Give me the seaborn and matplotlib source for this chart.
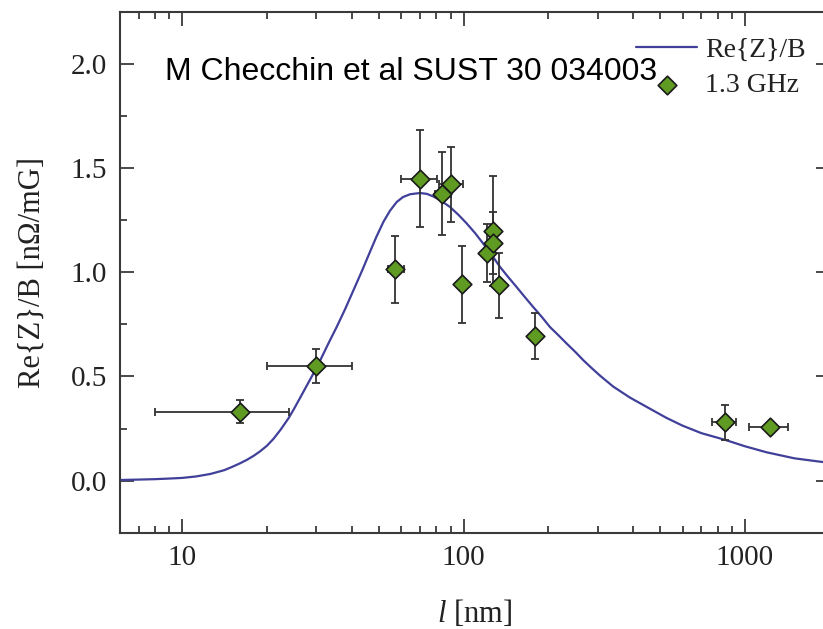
import numpy as np
import pandas as pd
import matplotlib
matplotlib.use("Agg")
import matplotlib.pyplot as plt
from matplotlib.ticker import LogLocator, MultipleLocator, FixedLocator, FixedFormatter, NullFormatter
import seaborn as sns

# Model curve Re{Z}/B versus mean free path l
curve_l = [6, 7, 8, 9, 10, 11.2, 12.6, 14.1, 15, 16, 17, 18, 18.9, 20, 21.1, 22.4,
           23.9, 25, 26.2, 27.7, 29.3, 30.9, 33, 35.4, 38, 40.6, 43.5, 46.5, 49,
           51.9, 54.8, 57.9, 61, 64.6, 70, 74, 78.2, 83.6, 89.5, 95.8, 102.6, 110,
           117.5, 126, 134.8, 144, 154.5, 165, 177, 190, 203, 217, 233, 250, 267,
           285, 305, 340, 390, 460, 525, 600, 700, 849, 1000, 1194, 1500, 2000]
curve_re = [0.003, 0.005, 0.007, 0.010, 0.013, 0.020, 0.032, 0.050, 0.065, 0.082,
            0.100, 0.120, 0.140, 0.167, 0.200, 0.245, 0.300, 0.345, 0.395, 0.455,
            0.515, 0.575, 0.655, 0.737, 0.825, 0.913, 1.005, 1.098, 1.170, 1.242,
            1.296, 1.338, 1.362, 1.375, 1.381, 1.377, 1.364, 1.342, 1.314, 1.277,
            1.235, 1.188, 1.138, 1.083, 1.026, 0.978, 0.929, 0.882, 0.833, 0.785,
            0.737, 0.699, 0.657, 0.617, 0.577, 0.541, 0.505, 0.452, 0.399, 0.345,
            0.302, 0.264, 0.228, 0.196, 0.165, 0.136, 0.107, 0.085]

# 1.3 GHz measurements
meas_l = [16, 30, 57, 70, 84, 90, 99, 121.5, 127.6, 127.3, 134, 180, 849, 1228]
meas_re = [0.33, 0.55, 1.015, 1.45, 1.378, 1.423, 0.942, 1.093, 1.20, 1.141, 0.937,
           0.696, 0.281, 0.258]
meas_re_err = [0.055, 0.082, 0.16, 0.232, 0.2, 0.18, 0.185, 0.14, 0.265, 0.15, 0.155,
               0.11, 0.084, 0.0]
meas_l_low = [8, 20, 53.8, 60.2, 79, 82, 99, 121.5, 127.6, 127.3, 134, 180, 766, 1036]
meas_l_high = [24, 40, 61.5, 80.4, 90, 99.4, 99, 121.5, 127.6, 127.3, 134, 180, 929, 1419]

y_ticks = [0.0, 0.5, 1.0, 1.5, 2.0]
y_tick_labels = ["0.0", "0.5", "1.0", "1.5", "2.0"]
x_ticks = [10, 100, 1000]
x_tick_labels = ["10", "100", "1000"]

curve_df = pd.DataFrame({"l": curve_l, "re": curve_re})
meas_df = pd.DataFrame({"l": meas_l, "re": meas_re})

sns.set_style("ticks")
plt.rcParams["font.family"] = ["Liberation Serif", "DejaVu Serif"]
plt.rcParams["mathtext.fontset"] = "custom"
plt.rcParams["mathtext.rm"] = "Liberation Serif"
plt.rcParams["mathtext.it"] = "Liberation Serif:italic"

edge = "#3a3a3a"
line_col = "#40409a"
green = "#5f9b22"

fig = plt.figure(figsize=(8.23, 6.29), dpi=100)
ax = fig.add_axes([0.1454, 0.1531, 0.8627, 0.8278])

sns.lineplot(data=curve_df, x="l", y="re", ax=ax, color=line_col, lw=1.6,
             label="Re{Z}/B", zorder=2)

xerr = np.array([np.array(meas_l) - np.array(meas_l_low),
                 np.array(meas_l_high) - np.array(meas_l)])
ax.errorbar(meas_l, meas_re, yerr=meas_re_err, xerr=xerr, fmt="none",
            ecolor="#333333", elinewidth=1.3, capsize=3.0, capthick=1.3, zorder=3)

sns.scatterplot(data=meas_df, x="l", y="re", ax=ax, marker="D", s=90,
                color=green, edgecolor="#1a1a1a", linewidth=1.2,
                label="1.3 GHz", zorder=4)

ax.set_xscale("log")
ax.set_xlim(6, 2000)
ax.set_ylim(-0.25, 2.25)

ax.xaxis.set_major_locator(FixedLocator(x_ticks))
ax.xaxis.set_major_formatter(FixedFormatter(x_tick_labels))
ax.xaxis.set_minor_locator(LogLocator(base=10, subs=np.arange(2, 10)))
ax.xaxis.set_minor_formatter(NullFormatter())
ax.yaxis.set_major_locator(FixedLocator(y_ticks))
ax.yaxis.set_major_formatter(FixedFormatter(y_tick_labels))
ax.yaxis.set_minor_locator(MultipleLocator(0.25))

ax.tick_params(which="both", direction="in", top=True, right=True,
               color=edge, width=1.3, labelsize=21, labelcolor="#222222")
ax.tick_params(which="major", length=10, pad=9)
ax.tick_params(which="minor", length=5)
for sp in ax.spines.values():
    sp.set_visible(True)
    sp.set_color(edge)
    sp.set_linewidth(1.5)

ax.set_xlabel(r"$\mathit{l}$ [nm]", fontsize=22, color="#222222", labelpad=19)
ax.set_ylabel("Re{Z}/B [nΩ/mG]", fontsize=22, color="#222222", labelpad=17)

ax.text(0.2, 0.885, "M Checchin et al SUST 30 034003", transform=fig.transFigure,
        fontsize=23, family=["Liberation Sans", "DejaVu Sans"], color="black",
        ha="left", va="center")

ax.legend(loc="upper left", bbox_to_anchor=(0.7728, 0.94),
          bbox_transform=fig.transFigure, frameon=False, fontsize=20,
          handlelength=2.2, handletextpad=0.3, labelspacing=0.33, borderpad=0,
          borderaxespad=0, labelcolor="#222222")

fig.savefig("out.png", dpi=100)
